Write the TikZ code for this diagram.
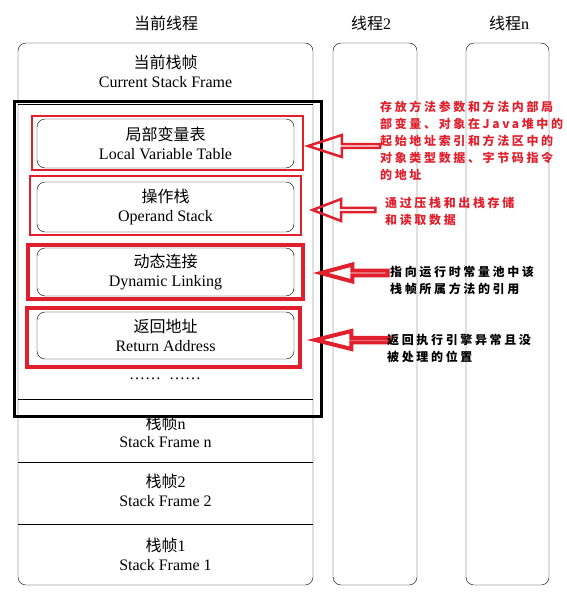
\documentclass[tikz,border=0pt]{standalone}
\usepackage{fontspec}
\setmainfont{Liberation Serif}
\newfontfamily\cjk{Noto Sans CJK SC}
\newfontfamily\notefont[LetterSpace=22]{Noto Sans CJK SC}
\usetikzlibrary{shapes.arrows}
\definecolor{boxred}{RGB}{224,32,44}

\begin{document}
\begin{tikzpicture}[x=1pt,y=-1pt,
    frametext/.style={align=center,inner sep=0pt,font=\fontsize{16}{18.5}\selectfont},
    framebox/.style={frametext,draw,rounded corners=8pt,minimum width=257pt},
    redbox/.style={draw=boxred,minimum width=271pt,inner sep=0pt},
    note/.style={align=left,anchor=west,inner sep=0pt,font=\notefont\fontsize{12}{17}\selectfont\bfseries},
    hollow/.style={single arrow,draw=boxred,shape border rotate=180,anchor=tip,inner sep=0pt}]
    \useasboundingbox (0,0) rectangle (566,597);

    % threads
    \node[frametext] (cur) at (166,23) {\cjk 当前线程};
    \node[frametext] (thr2) at (371,23) {{\cjk 线程}2};
    \node[frametext] (thrn) at (509,23) {{\cjk 线程}n};
    \draw[rounded corners=8pt] (18,43) rectangle (313,585);
    \draw[rounded corners=8pt] (333,43) rectangle (417,585);
    \draw[rounded corners=8pt] (466,43) rectangle (549,585);
    \foreach \y in {104,399,462,524}
        \draw (18,\y) -- (313,\y);

    % stack frames
    \node[frametext] (curframe) at (165.5,71.5) {{\cjk 当前栈帧}\\Current Stack Frame};
    \node[frametext] (framen) at (165.5,432) {{\cjk 栈帧}n\\Stack Frame n};
    \node[frametext] (frame2) at (165.5,490.5) {{\cjk 栈帧}2\\Stack Frame 2};
    \node[frametext] (frame1) at (165.5,554.5) {{\cjk 栈帧}1\\Stack Frame 1};
    \draw[line width=3pt] (14,101) rectangle (321,416);

    % parts of the current frame
    \node[redbox,line width=2.5pt,minimum height=54pt] (lvtred) at (167.5,143) {};
    \node[framebox,minimum height=49pt] (lvt) at (165.5,143.5) {{\cjk 局部变量表}\\Local Variable Table};
    \node[redbox,line width=2.5pt,minimum height=59pt] (opsred) at (165.5,205.5) {};
    \node[framebox,minimum height=50pt] (ops) at (165.5,207) {{\cjk 操作栈}\\Operand Stack};
    \node[redbox,line width=4pt,minimum width=275pt,minimum height=54pt] (dynred) at (165.5,272) {};
    \node[framebox,minimum height=48pt] (dyn) at (165.5,272) {{\cjk 动态连接}\\Dynamic Linking};
    \node[redbox,line width=4pt,minimum width=273pt,minimum height=59pt] (retred) at (163.5,337.5) {};
    \node[framebox,minimum height=47pt] (ret) at (165.5,335.5) {{\cjk 返回地址}\\Return Address};
    \node[frametext] (dots) at (165,379) {……\hspace{8pt}……};

    % arrows
    \node[hollow,line width=2.5pt,minimum height=72pt,minimum width=22pt,
        single arrow head extend=6.5pt,single arrow tip angle=36] (arrlvt) at (304,146) {};
    \node[hollow,line width=2.5pt,minimum height=63pt,minimum width=22pt,
        single arrow head extend=5pt,single arrow tip angle=42] (arrops) at (309,210) {};
    \node[hollow,line width=4pt,minimum height=67pt,minimum width=17pt,
        single arrow head extend=5pt,single arrow tip angle=30] (arrdyn) at (313,273) {};
    \node[hollow,line width=4pt,minimum height=74pt,minimum width=18pt,
        single arrow head extend=6pt,single arrow tip angle=28] (arrret) at (307,340) {};

    % notes
    \node[note,text=boxred] (notelvt) at (380,141) {存放方法参数和方法内部局\\部变量、对象在Java堆中的\\起始地址索引和方法区中的\\对象类型数据、字节码指令\\的地址};
    \node[note,text=boxred] (noteops) at (385,211.5) {通过压栈和出栈存储\\和读取数据};
    \node[note] (notedyn) at (390,280) {指向运行时常量池中该\\栈帧所属方法的引用};
    \node[note] (noteret) at (387,348.5) {返回执行引擎异常且没\\被处理的位置};
\end{tikzpicture}
\end{document}
